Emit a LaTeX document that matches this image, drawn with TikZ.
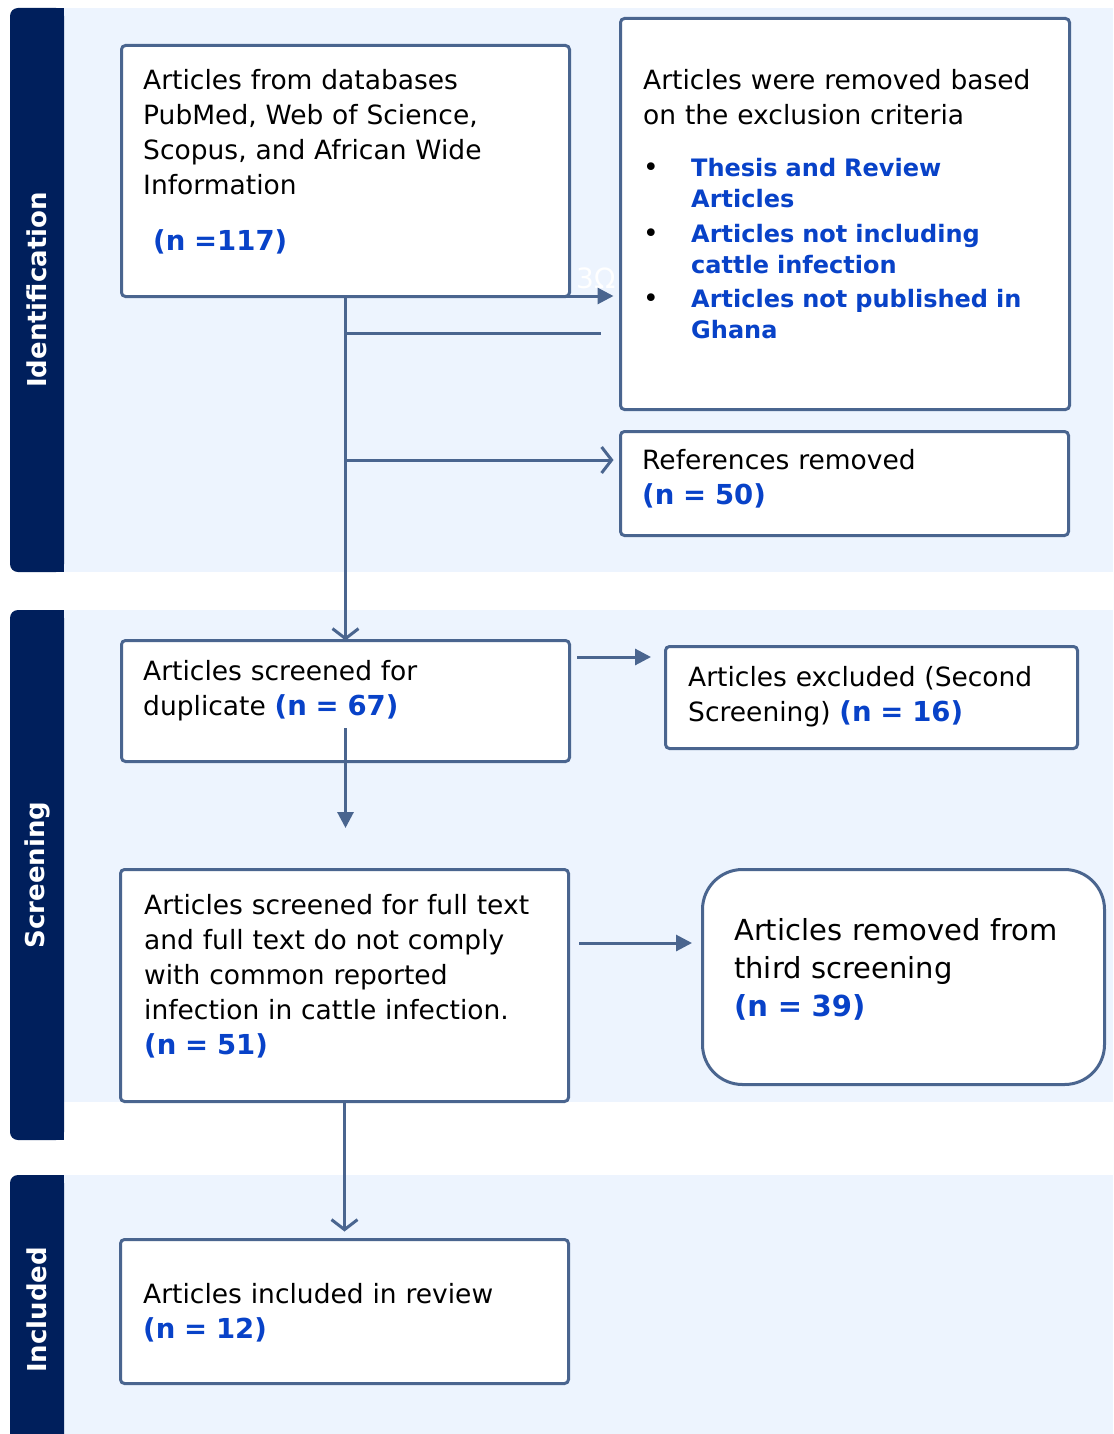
\documentclass[tikz,border=0pt]{standalone}
\usepackage{fontspec}
\setmainfont{DejaVu Sans}
\usetikzlibrary{positioning,arrows.meta,calc}
\definecolor{bandnavy}{RGB}{0,31,92}
\definecolor{bandbg}{RGB}{237,244,254}
\definecolor{boxline}{RGB}{74,101,143}
\definecolor{nblue}{RGB}{8,66,200}
\newcommand{\nn}[1]{\textcolor{nblue}{\textbf{#1}}}
\newcommand{\nnbig}[1]{{\fontsize{27.5}{35}\selectfont\nn{#1}}}
\tikzset{
  box/.style={draw=boxline,line width=3pt,fill=white,rounded corners=4pt,
    anchor=north west,inner sep=0pt,outer sep=0pt},
  txt/.style={anchor=base west,align=left,inner sep=0pt,text width=440pt,
    font=\fontsize{26.5}{35}\selectfont},
  bultxt/.style={txt,text width=360pt,text=nblue,
    font=\fontsize{24}{31}\selectfont\bfseries},
  bandlabel/.style={text=white,rotate=90,inner sep=0pt,
    font=\fontsize{26}{30}\selectfont\bfseries},
  flow/.style={draw=boxline,line width=3pt},
  openarr/.style={flow,-{Straight Barb[length=10pt,width=26pt]}},
  fillarr/.style={flow,-{Triangle[length=16pt,width=16pt]}},
}

\begin{document}
\begin{tikzpicture}[x=1pt,y=-1pt]
  \useasboundingbox (0,0) rectangle (1113,1434);

  % bands
  \fill[bandbg] (64,8) rectangle (1113,572);
  \fill[bandbg] (64,610) rectangle (1113,1102);
  \fill[bandbg] (64,1175) rectangle (1113,1434);
  \foreach \top/\bot in {8/572,610/1140,1175/1450}{
    \fill[bandnavy,rounded corners=8pt] (10,\top) rectangle (64,\bot);
    \fill[bandnavy] (40,\top) rectangle (64,\bot);
  }
  \node[bandlabel] (lid) at (37,290) {Identification};
  \node[bandlabel] (lscr) at (37,875) {Screening};
  \node[bandlabel] (linc) at (37,1310) {Included};

  % boxes
  \node[box,minimum width=448pt,minimum height=251pt] (db) at (121.5,45.5) {};
  \node[box,minimum width=449pt,minimum height=391pt] (excl) at (620.5,18.5) {};
  \node[box,minimum width=448pt,minimum height=104pt] (refs) at (620.5,431.5) {};
  \node[box,minimum width=448pt,minimum height=121pt] (dup) at (121.5,640.5) {};
  \node[box,minimum width=412pt,minimum height=102pt] (sec) at (665.5,646.5) {};
  \node[box,minimum width=448pt,minimum height=232pt] (full) at (120.5,869.5) {};
  \node[box,minimum width=402pt,minimum height=215pt,rounded corners=40pt] (third) at (702.5,869.5) {};
  \node[box,minimum width=448pt,minimum height=144pt] (incl) at (120.5,1239.5) {};

  % texts
  \node[txt] (tdb) at (143,90) {Articles from databases\\PubMed, Web of Science,\\Scopus, and African Wide\\Information\\[21pt]\hspace*{10pt}\nnbig{(n =117)}};
  \node[txt] (texcl) at (643,90) {Articles were removed based\\on the exclusion criteria};
  \foreach \y/\t [count=\i] in {177/{Thesis and Review\\Articles},242/{Articles not including\\cattle infection},307/{Articles not published in\\Ghana}}{
    \node[txt,text width=30pt] (dot\i) at (643,\y) {•};
    \node[bultxt] (bul\i) at (691,\y) {\t};
  }
  \node[txt] (trefs) at (642,469) {References removed\\\nnbig{(n = 50)}};
  \node[txt] (tdup) at (143,680) {Articles screened for\\duplicate \nnbig{(n = 67)}};
  \node[txt] (tsec) at (688,686) {Articles excluded (Second\\Screening) \nnbig{(n = 16)}};
  \node[txt] (tfull) at (144,914) {Articles screened for full text\\and full text do not comply\\with common reported\\infection in cattle infection.\\\nnbig{(n = 51)}};
  \node[txt,font=\fontsize{29}{38}\selectfont] (tthird) at (734,940) {Articles removed from\\third screening\\\nn{(n = 39)}};
  \node[txt] (tincl) at (143,1303) {Articles included in review\\\nnbig{(n = 12)}};
  \node[txt,text=white,font=\fontsize{28}{30}\selectfont] (ghost) at (576,288) {3Ω};

  % connectors
  \coordinate (refin) at (345.5,460);
  \coordinate (cutA) at (345.5,333);
  \coordinate (cutB) at (601,333);
  \coordinate (exA) at (521,296);
  \coordinate (secA) at (577,657);
  \coordinate (secB) at (651,657);
  \coordinate (dupA) at (345.5,728);
  \coordinate (dupB) at (345.5,828);
  \coordinate (thA) at (579,943);
  \coordinate (thB) at (692,943);

  \draw[openarr] (db.south) -- (dup.north);
  \draw[openarr,shorten >=7pt] (refin) -- (refs.west |- refin);
  \draw[flow] (cutA) -- (cutB);
  \draw[fillarr,shorten >=7pt] (exA) -- (excl.west |- exA);
  \draw[fillarr] (secA) -- (secB);
  \draw[fillarr] (dupA) -- (dupB);
  \draw[fillarr] (thA) -- (thB);
  \draw[openarr,shorten >=8pt] (full.south) -- (incl.north);
\end{tikzpicture}
\end{document}
